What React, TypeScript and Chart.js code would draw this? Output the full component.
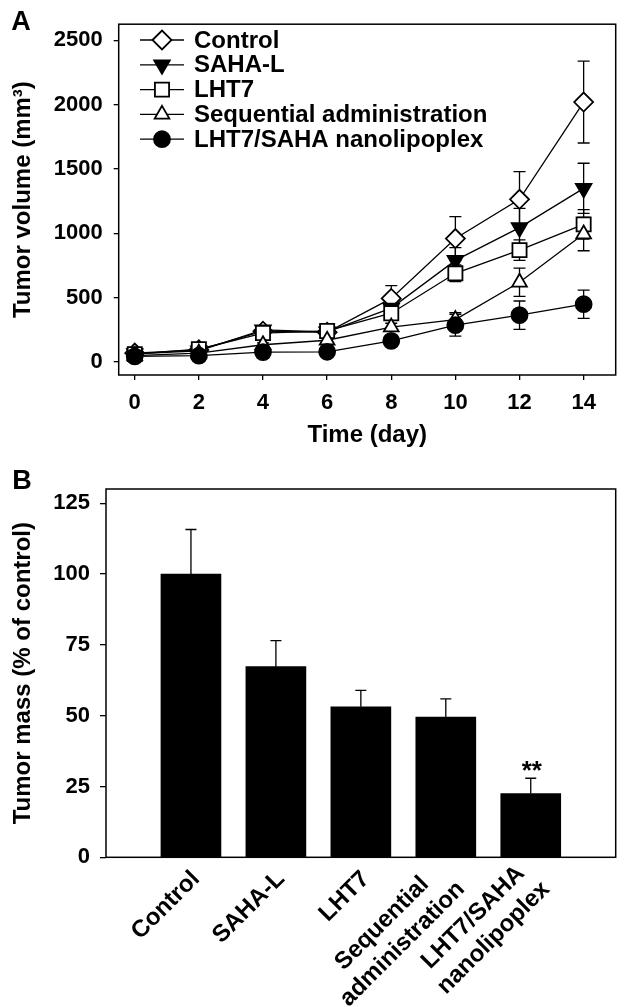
import React, { useEffect, useRef } from 'react';
import { Chart, registerables } from 'chart.js';

Chart.register(...registerables);

// ---------------- Data ----------------
const days = [0, 2, 4, 6, 8, 10, 12, 14];
const dayTicks = [0, 2, 4, 6, 8, 10, 12, 14];
const volumeTicks = [0, 500, 1000, 1500, 2000, 2500];

const seriesNames = ['Control', 'SAHA-L', 'LHT7', 'Sequential administration', 'LHT7/SAHA nanolipoplex'];

const controlVolume = [70, 95, 240, 232, 495, 960, 1265, 2020];
const controlError = [12, 10, 20, 15, 100, 170, 215, 318];
const sahaVolume = [65, 88, 250, 235, 420, 790, 1045, 1350];
const sahaError = [10, 10, 20, 18, 60, 100, 150, 195];
const lht7Volume = [62, 100, 226, 242, 380, 690, 870, 1070];
const lht7Error = [10, 10, 20, 18, 50, 65, 80, 115];
const seqVolume = [50, 70, 135, 170, 272, 330, 620, 995];
const seqError = [10, 10, 15, 15, 30, 55, 110, 130];
const nanoVolume = [45, 50, 78, 80, 165, 287, 365, 450];
const nanoError = [10, 10, 15, 15, 25, 85, 110, 110];

const volumeSeries = [controlVolume, sahaVolume, lht7Volume, seqVolume, nanoVolume];
const volumeErrors = [controlError, sahaError, lht7Error, seqError, nanoError];

const groupLabels = [['Control'], ['SAHA-L'], ['LHT7'], ['Sequential', 'administration'], ['LHT7/SAHA', 'nanolipoplex']];
const massValues = [100, 67.3, 53.1, 49.5, 22.5];
const massErrors = [15.7, 9.2, 5.8, 6.4, 5.4];
const massTicks = [0, 25, 50, 75, 100, 125];
const significance = ['', '', '', '', '**'];

// ---------------- Styles ----------------
const FONT = '"Liberation Sans", Arial, Helvetica, sans-serif';
Chart.defaults.font.family = FONT;
Chart.defaults.color = '#000';

const markerStyles = [
  { pointStyle: 'rectRot', radius: 9.5, fill: '#fff', rotation: 0 },
  { pointStyle: 'triangle', radius: 9, fill: '#000', rotation: 180 },
  { pointStyle: 'rect', radius: 10, fill: '#fff', rotation: 0 },
  { pointStyle: 'triangle', radius: 8.5, fill: '#fff', rotation: 0 },
  { pointStyle: 'circle', radius: 8, fill: '#000', rotation: 0 },
];

function drawMarker(ctx: CanvasRenderingContext2D, style: any, x: number, y: number) {
  const r = style.radius;
  let rad = (style.rotation * Math.PI) / 180;
  ctx.beginPath();
  if (style.pointStyle === 'circle') {
    ctx.arc(x, y, r, 0, Math.PI * 2);
  } else if (style.pointStyle === 'rect') {
    const s = Math.SQRT1_2 * r;
    ctx.rect(x - s, y - s, 2 * s, 2 * s);
  } else if (style.pointStyle === 'rectRot') {
    ctx.moveTo(x - r, y);
    ctx.lineTo(x, y - r);
    ctx.lineTo(x + r, y);
    ctx.lineTo(x, y + r);
  } else if (style.pointStyle === 'triangle') {
    ctx.moveTo(x + Math.sin(rad) * r, y - Math.cos(rad) * r);
    rad += (2 * Math.PI) / 3;
    ctx.lineTo(x + Math.sin(rad) * r, y - Math.cos(rad) * r);
    rad += (2 * Math.PI) / 3;
    ctx.lineTo(x + Math.sin(rad) * r, y - Math.cos(rad) * r);
  }
  ctx.closePath();
  ctx.fillStyle = style.fill;
  ctx.fill();
  ctx.lineWidth = 1.8;
  ctx.strokeStyle = '#000';
  ctx.stroke();
}

const plainNumber = (v: any) => `${v}`;

const boxPlugin = {
  id: 'box',
  beforeDatasetsDraw(chart: any) {
    const { ctx, chartArea: a } = chart;
    ctx.save();
    ctx.strokeStyle = '#000';
    ctx.lineWidth = 1.5;
    ctx.strokeRect(a.left, a.top, a.right - a.left, a.bottom - a.top);
    ctx.restore();
  },
};

function panelLabel(text: string, x: number, y: number) {
  return {
    id: 'panel' + text,
    afterDraw(chart: any) {
      const ctx = chart.ctx;
      ctx.save();
      ctx.font = `bold 27px ${FONT}`;
      ctx.fillStyle = '#000';
      ctx.textAlign = 'center';
      ctx.textBaseline = 'middle';
      ctx.fillText(text, x, y);
      ctx.restore();
    },
  };
}

const errorBarsA = {
  id: 'errorBarsA',
  beforeDatasetsDraw(chart: any) {
    const { ctx } = chart;
    const x = chart.scales.x;
    const y = chart.scales.y;
    ctx.save();
    ctx.strokeStyle = '#000';
    ctx.lineWidth = 1.3;
    volumeSeries.forEach((vals, i) => {
      const errs = volumeErrors[i];
      days.forEach((d, j) => {
        const px = x.getPixelForValue(d);
        const top = y.getPixelForValue(vals[j] + errs[j]);
        const bot = y.getPixelForValue(vals[j] - errs[j]);
        ctx.beginPath();
        ctx.moveTo(px, top);
        ctx.lineTo(px, bot);
        ctx.moveTo(px - 6, top);
        ctx.lineTo(px + 6, top);
        ctx.moveTo(px - 6, bot);
        ctx.lineTo(px + 6, bot);
        ctx.stroke();
      });
    });
    ctx.restore();
  },
};

const legendA = {
  id: 'legendA',
  afterDraw(chart: any) {
    const ctx = chart.ctx;
    ctx.save();
    seriesNames.forEach((name, i) => {
      const yy = 40 + i * 24.8;
      ctx.beginPath();
      ctx.strokeStyle = '#000';
      ctx.lineWidth = 1.3;
      ctx.moveTo(140, yy);
      ctx.lineTo(184, yy);
      ctx.stroke();
      drawMarker(ctx, markerStyles[i], 162, yy);
      ctx.font = `bold 24px ${FONT}`;
      ctx.fillStyle = '#000';
      ctx.textAlign = 'left';
      ctx.textBaseline = 'middle';
      ctx.fillText(name, 194, yy + 1);
    });
    ctx.restore();
  },
};

const errorBarsB = {
  id: 'errorBarsB',
  afterDatasetsDraw(chart: any) {
    const { ctx } = chart;
    const x = chart.scales.x;
    const y = chart.scales.y;
    ctx.save();
    ctx.strokeStyle = '#000';
    ctx.lineWidth = 1.3;
    massValues.forEach((v, i) => {
      const px = x.getPixelForValue(i + 1);
      const top = y.getPixelForValue(v + massErrors[i]);
      const base = y.getPixelForValue(v);
      ctx.beginPath();
      ctx.moveTo(px, base);
      ctx.lineTo(px, top);
      ctx.moveTo(px - 5.5, top);
      ctx.lineTo(px + 5.5, top);
      ctx.stroke();
      if (significance[i]) {
        ctx.font = `bold 26px ${FONT}`;
        ctx.fillStyle = '#000';
        ctx.textAlign = 'center';
        ctx.textBaseline = 'alphabetic';
        ctx.fillText(significance[i], px + 1, top + 1);
      }
    });
    ctx.restore();
  },
};

const xLabelsB = {
  id: 'xLabelsB',
  afterDraw(chart: any) {
    const { ctx, chartArea } = chart;
    const x = chart.scales.x;
    ctx.save();
    ctx.font = `bold 24px ${FONT}`;
    ctx.fillStyle = '#000';
    ctx.textAlign = 'center';
    ctx.textBaseline = 'middle';
    const lineH = 29;
    groupLabels.forEach((lines, i) => {
      const px = x.getPixelForValue(i + 1);
      const maxW = Math.max(...lines.map((l) => ctx.measureText(l).width));
      ctx.save();
      ctx.translate(px + 5, chartArea.bottom + 18);
      ctx.rotate(-Math.PI / 4);
      lines.forEach((l, k) => {
        const ly = (k - (lines.length - 1) / 2) * lineH;
        ctx.fillText(l, -maxW / 2, ly);
      });
      ctx.restore();
    });
    ctx.restore();
  },
};

const tickFont = { size: 22, weight: 'bold' as const, family: FONT };
const titleFont = { size: 24, weight: 'bold' as const, family: FONT };

export default function App() {
  const refA = useRef<HTMLCanvasElement>(null);
  const refB = useRef<HTMLCanvasElement>(null);

  useEffect(() => {
    const chartA = new Chart(refA.current as HTMLCanvasElement, {
      type: 'line',
      data: {
        datasets: volumeSeries.map((vals, i) => ({
          label: seriesNames[i],
          data: days.map((d, j) => ({ x: d, y: vals[j] })),
          borderColor: '#000',
          borderWidth: 1.3,
          pointStyle: markerStyles[i].pointStyle as any,
          pointRadius: markerStyles[i].radius,
          pointRotation: markerStyles[i].rotation,
          pointBackgroundColor: markerStyles[i].fill,
          pointBorderColor: '#000',
          pointBorderWidth: 1.8,
          tension: 0,
          fill: false,
          order: 5 - i,
        })),
      },
      options: {
        animation: false,
        responsive: false,
        devicePixelRatio: 1,
        layout: { autoPadding: false, padding: { left: 0, top: 16.7, right: 10.3, bottom: 0 } },
        plugins: { legend: { display: false }, tooltip: { enabled: false } },
        scales: {
          x: {
            type: 'linear',
            min: -0.5,
            max: 15,
            afterBuildTicks: (s: any) => {
              s.ticks = dayTicks.map((v) => ({ value: v }));
            },
            afterFit: (s: any) => {
              s.height = 80;
            },
            grid: { drawOnChartArea: false, drawTicks: true, tickLength: 5, color: '#000', lineWidth: 1.3 },
            border: { display: false },
            ticks: { font: tickFont, color: '#000', padding: 10, maxRotation: 0, autoSkip: false, callback: plainNumber },
            title: { display: true, text: 'Time (day)', font: titleFont, color: '#000', padding: { top: 0, bottom: 5.6 } },
          },
          y: {
            type: 'linear',
            min: -100,
            max: 2625,
            afterBuildTicks: (s: any) => {
              s.ticks = volumeTicks.map((v) => ({ value: v }));
            },
            afterFit: (s: any) => {
              s.width = 118.7;
            },
            grid: { drawOnChartArea: false, drawTicks: true, tickLength: 5, color: '#000', lineWidth: 1.3 },
            border: { display: false },
            ticks: { font: tickFont, color: '#000', padding: 11, callback: plainNumber },
            title: { display: true, text: 'Tumor volume (mm³)', font: titleFont, color: '#000', padding: { top: 8.6, bottom: 0 } },
          },
        },
      },
      plugins: [boxPlugin, errorBarsA, legendA, panelLabel('A', 21, 23)],
    } as any);

    const chartB = new Chart(refB.current as HTMLCanvasElement, {
      type: 'bar',
      data: {
        datasets: [
          {
            label: 'Tumor mass',
            data: massValues.map((v, i) => ({ x: i + 1, y: v })),
            backgroundColor: '#000',
            borderWidth: 0,
            barThickness: 60,
          },
        ],
      },
      options: {
        animation: false,
        responsive: false,
        devicePixelRatio: 1,
        layout: { autoPadding: false, padding: { left: 0, top: 34, right: 10.3, bottom: 0 } },
        plugins: { legend: { display: false }, tooltip: { enabled: false } },
        scales: {
          x: {
            type: 'linear',
            min: 0,
            max: 6,
            offset: false,
            afterBuildTicks: (s: any) => {
              s.ticks = groupLabels.map((_, i) => ({ value: i + 1 }));
            },
            afterFit: (s: any) => {
              s.height = 149.7;
            },
            grid: { display: false, offset: false },
            border: { display: false },
            ticks: { display: false },
          },
          y: {
            type: 'linear',
            min: 0,
            max: 130,
            afterBuildTicks: (s: any) => {
              s.ticks = massTicks.map((v) => ({ value: v }));
            },
            afterFit: (s: any) => {
              s.width = 106;
            },
            grid: { drawOnChartArea: false, drawTicks: true, tickLength: 6, color: '#000', lineWidth: 1.3 },
            border: { display: false },
            ticks: { font: tickFont, color: '#000', padding: 10, callback: plainNumber },
            title: { display: true, text: 'Tumor mass (% of control)', font: titleFont, color: '#000', padding: { top: 8.6, bottom: 0 } },
          },
        },
      },
      plugins: [boxPlugin, errorBarsB, xLabelsB, panelLabel('B', 22, 27)],
    } as any);

    return () => {
      chartA.destroy();
      chartB.destroy();
    };
  }, []);

  return (
    <div style={{ position: 'absolute', left: 0, top: 0, width: 626, height: 1007, background: '#fff' }}>
      <canvas ref={refA} width={626} height={455} style={{ position: 'absolute', left: 0, top: 0, display: 'block' }} />
      <canvas ref={refB} width={626} height={552} style={{ position: 'absolute', left: 0, top: 455, display: 'block' }} />
    </div>
  );
}
